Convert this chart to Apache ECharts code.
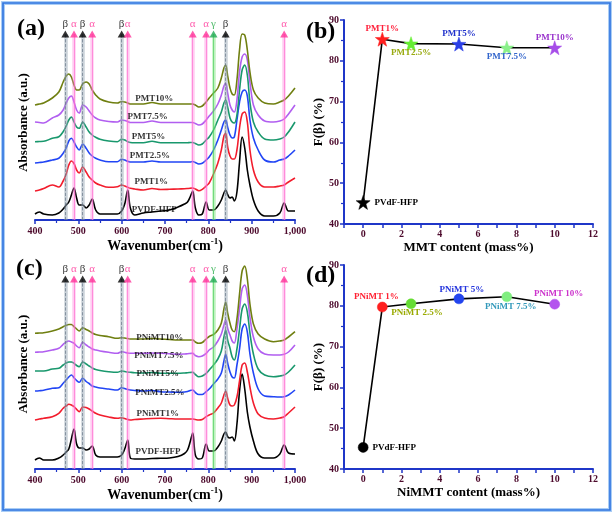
<!DOCTYPE html>
<html><head><meta charset="utf-8">
<script src="https://cdn.jsdelivr.net/npm/echarts/dist/echarts.min.js"></script>
<style>html,body{margin:0;padding:0;background:#fff}#chart{width:614px;height:515px}</style>
</head><body><div id="chart"></div>
<script>
// ---------- DATA ----------
const wavenumbers = [400,410,420,440,455,465,472,478,484,490,496,502,510,518,525,532,540,550,570,590,600,607,614,620,630,650,670,690,710,730,745,752,758,764,770,778,786,795,802,812,822,830,836,840,845,850,855,860,866,872,878,884,890,896,904,915,930,950,965,975,985,1000];

// panel (a) spectra (absorbance, a.u.)
const pvdfA  = [6,8,6,5,7,11,15,18,25,32,22,15,15,12,15,21,10,6,6,6,9,16,30,12,5,7,8,9,10,13,16,18,23,29,12,5,6,18,10,10,14,20,27,30,25,22,23,19,28,58,83,72,50,35,20,9,4,4,7,17,9,9];
const pmt1   = [29,30,31.5,35,33,39,46,55,59,56.5,50,47,53,48,43,40,37,35,32.7,33.3,35,34,32.7,31.7,31,30,31.5,30.5,30.7,31,31.3,31.5,31.7,32,31,29.3,30.7,34,37,46,57,70,84,86.7,72,64,61,61,70,92,106,108,98,70,50,38,33,33,34,35,38,42];
const pmt25  = [57,57.5,58,60,61.7,66.7,72,79,81.7,78,73,70,76,71.7,67,64,61.7,60,58.3,58.3,60.7,60,58.7,58,58,58,59,58,58,58,58,58,58,58.5,57.5,56,56.7,60,63,70,80,90,98,100,92,85,82,83,100,118,128,130,124,100,82,70,60,58,60,61,64,70];
const pmt5   = [78.3,78.5,78.7,81.7,83.3,88.3,94,100,103,98,93,91.7,98,93,88,85,82.7,80.7,79,78.3,80.7,80,78.3,77.5,77.3,77.3,78.7,77.3,77.3,77.3,77.3,77.3,77.5,77.5,76.5,75,76,80,83,90,100,108,117,120,112,102,98,97,105,130,150,155,145,118,98,88,81,80,81,83,88,98];
const pmt75  = [98,97.5,97,102,105,110,117,122,124,118,110,107,115,113,109,105,102,100,98.5,98,100,99.5,98.5,97.5,97.5,97.5,99,97.5,97.5,97.5,97.5,97.5,97.5,97.5,96.5,95,96,100,104,109,116,125,134,136.7,126,115,110,108,120,148,163,166,160,138,115,105,99,98,99,101,106,115];
const pmt10  = [115,116,117,122,128,138,144,146,143,135,130,130,136,138,136,130,125,121,118,117,118.5,118,117,116,116,116,117.5,116,116,116,116,116,116,116,115,113,114,118,122,127,132,142,152,155,143,132,126,125,140,170,186,185,170,148,130,122,117,116,118,120,124,132];

// panel (c) spectra
const pvdfC    = [9,11,9,9,11,14,17,20,30,40,25,21,21,19,20,23,14,12,12,12,14,20,29,11,10,10,10.5,10.7,11,12.5,15.5,19,27,36,14,10,11,25,18,18,22,28,35,37,32,31,32,28,45,78,95,80,57,42,28,15,11,11,15,24,16,15];
const pnimt1   = [49,50,50.7,52.3,55.7,60.7,63,64.7,64,62.3,59.7,57.3,62,61.5,60,58,55.7,54,52,50.7,51.3,50.5,49.5,49,49.5,50,50.5,50.7,50.3,50,50,50,50,50,49.5,49,49.5,52.3,54,56,61,66,74,78,70,64,63,64,72,88,104,106,97,82,66,55,51,50,51,52.3,56,62];
const pnimt25  = [78,78.3,78.7,80.7,81.3,85.7,89,92,94,91.3,88.5,86.7,90.7,87.5,85.5,83,82,81,80,79,81.3,80.5,79.5,79,78.5,78,78.5,77.3,77,76.7,77,77.5,78.5,79,76.5,74.5,74.5,77.3,80,85,90,96,108,114.7,105,97,92,91,104,120,140,145,137,115,96,80,73,72.3,72,72.3,74,79];
const pnimt5   = [98,98,98,100,100.7,104,106,107,107,105.7,103.5,102.3,107,105,103,101,99.5,98.5,97.3,96.7,98,97.5,97,96.7,96.3,96,96.5,95.7,95.7,95.7,96,96.3,96.5,96.7,94.5,92.3,93,95.7,99,104,110,118,132,139,128,120.7,112,109,120,140,160,165,157,136,115,100,94,92.3,93,94,97,104];
const pnimt75  = [116.7,117,117.3,119,120.7,124.7,127,128,127,125.7,123,121.3,126.7,124,122,120,119,118,116.7,115.7,117.3,116.7,116,115.7,115.7,115.7,116,115.7,115.3,114.7,115,115.3,115.5,115.7,113.5,112.3,113,115.7,119,122,128,135,144,149,140,134,128,126,140,160,180,184,174,152,132,120,115,114,114,114.7,117,124];
const pnimt10  = [135.7,136,136.3,138,140,142.3,143.5,144.5,144.5,142.3,140,138,141.3,139.5,138,136,134.5,133.5,132.3,130.7,131.3,131,130.5,130,130,130,130.5,130,129.5,129,129,129,129,129,127,125.7,126.5,130,132.5,134.5,139,146,160,167,155,145.7,139,137.3,150,175,198,203,190,165,145,135,130,127.3,128,129,132,137.3];

const namesA = ['PVDF-HFP','PMT1%','PMT2.5%','PMT5%','PMT7.5%','PMT10%'];
const namesC = ['PVDF-HFP','PNiMT1%','PNiMT2.5%','PNiMT5%','PNiMT7.5%','PNiMT10%'];

// characteristic bands
const peakWavenumbers = [470,490,510,532,600,614,764,795,812,840,975];
const peakPhases      = ['β','α','β','α','β','α','α','α','γ','β','α'];

// panels (b) and (d): F(beta)
const contents   = [0,1,2.5,5,7.5,10];
const fBetaMMT   = [45.3,85.3,84.2,84.1,83.2,83.2];
const namesB     = ['PVdF-HFP','PMT1%','PMT2.5%','PMT5%','PMT7.5%','PMT10%'];
const fBetaNiMMT = [45.3,79.7,80.5,81.7,82.2,80.4];
const namesD     = ['PVdF-HFP','PNiMT 1%','PNiMT 2.5%','PNiMT 5%','PNiMT 7.5%','PNiMT 10%'];

// ---------- STYLE ----------
const SERIF = '"Liberation Serif","Times New Roman",serif';
const AXIS_BLUE = '#1f36c8';
const TICK_TXT = '#4d0a2c';
const specColors = ['#000000','#f21d2d','#2145f5','#19986d','#b15ef0','#6f7f10'];
const phaseStyle = {
  'β': {tri:'#000000', txt:'#000000', band:'rgba(150,165,180,0.5)', core:'#5d6d80'},
  'α': {tri:'#ff3399', txt:'#ff3399', band:'rgba(255,130,220,0.4)', core:'#ff66cc'},
  'γ': {tri:'#22aa55', txt:'#22aa44', band:'rgba(130,230,130,0.5)', core:'#44cc55'}
};
const starPath = 'path://M0,-10L2.35,-3.24L9.51,-3.09L3.8,1.24L5.88,8.09L0,4L-5.88,8.09L-3.8,1.24L-9.51,-3.09L-2.35,-3.24Z';

const chart = echarts.init(document.getElementById('chart'), null, {renderer:'canvas'});

function specX(idx){
  return {gridIndex:idx, type:'value', min:400, max:1000, interval:100,
    axisLine:{show:true, onZero:false, lineStyle:{color:AXIS_BLUE, width:2}},
    axisTick:{show:true, length:4, lineStyle:{color:AXIS_BLUE, width:1.5}},
    minorTick:{show:true, splitNumber:2, length:3, lineStyle:{color:AXIS_BLUE, width:1.2}},
    splitLine:{show:false}, minorSplitLine:{show:false},
    axisLabel:{color:TICK_TXT, fontFamily:SERIF, fontSize:10, fontWeight:'bold', margin:6},
    name:'Wavenumber(cm{s|-1})', nameLocation:'middle', nameGap:17,
    nameTextStyle:{color:'#000', fontFamily:SERIF, fontSize:14, fontWeight:'bold',
      rich:{s:{fontSize:9, fontFamily:SERIF, fontWeight:'bold', color:'#000', padding:[0,0,9,0]}}}
  };
}
function specY(idx, max){
  return {gridIndex:idx, type:'value', min:0, max:max,
    axisLine:{show:false}, axisTick:{show:false}, axisLabel:{show:false}, splitLine:{show:false},
    name:'Absorbance (a.u.)', nameLocation:'middle', nameGap:5,
    nameTextStyle:{color:'#000', fontFamily:SERIF, fontSize:13, fontWeight:'bold'}
  };
}
function fracX(idx, title){
  return {gridIndex:idx, type:'value', min:-1, max:12, interval:1,
    axisLine:{show:true, onZero:false, lineStyle:{color:AXIS_BLUE, width:2}},
    axisTick:{show:true, length:4, lineStyle:{color:AXIS_BLUE, width:1.5}},
    splitLine:{show:false},
    axisLabel:{color:TICK_TXT, fontFamily:SERIF, fontSize:10, fontWeight:'bold', margin:5,
      formatter:v => (v>=0 && v%2===0) ? String(v) : ''},
    name:title, nameLocation:'middle', nameGap:17,
    nameTextStyle:{color:'#000', fontFamily:SERIF, fontSize:13, fontWeight:'bold'}
  };
}
function fracY(idx){
  return {gridIndex:idx, type:'value', min:40, max:90, interval:10,
    axisLine:{show:true, onZero:false, lineStyle:{color:AXIS_BLUE, width:2}},
    axisTick:{show:true, length:4, lineStyle:{color:AXIS_BLUE, width:1.5}},
    minorTick:{show:true, splitNumber:2, length:3, lineStyle:{color:AXIS_BLUE, width:1.2}},
    splitLine:{show:false}, minorSplitLine:{show:false},
    axisLabel:{color:TICK_TXT, fontFamily:SERIF, fontSize:10, fontWeight:'bold', margin:5},
    name:'F(β) (%)', nameLocation:'middle', nameGap:19,
    nameTextStyle:{color:'#000', fontFamily:SERIF, fontSize:13, fontWeight:'bold'}
  };
}

function specSeries(arr, color, idx){
  return {type:'line', xAxisIndex:idx, yAxisIndex:idx, data:wavenumbers.map((w,i)=>[w, arr[i]]),
    symbol:'none', smooth:0.35, lineStyle:{color:color, width:1.6}, z:4, silent:true, animation:false};
}
function bandSeries(idx, topH){
  return [
    {type:'scatter', xAxisIndex:idx, yAxisIndex:idx, z:2, silent:true, animation:false,
      data:[], markLine:{silent:true, symbol:'none', animation:false, label:{show:false},
        data:peakWavenumbers.map((p,i)=>[{coord:[p,0], lineStyle:{color:phaseStyle[peakPhases[i]].band, width:3.5, type:'solid'}},{coord:[p,topH]}])}},
    {type:'scatter', xAxisIndex:idx, yAxisIndex:idx, z:3, silent:true, animation:false,
      data:[], markLine:{silent:true, symbol:'none', animation:false, label:{show:false},
        data:peakWavenumbers.map((p,i)=>[{coord:[p,0], lineStyle:{color:phaseStyle[peakPhases[i]].core, width:0.8, type:peakPhases[i]==='β'?'dashed':'solid', opacity:0.8}},{coord:[p,topH]}])}},
    {type:'scatter', xAxisIndex:idx, yAxisIndex:idx, z:6, silent:true, animation:false,
      symbol:'triangle', symbolSize:[8,7],
      data:peakWavenumbers.map((p,i)=>({value:[p,topH], itemStyle:{color:phaseStyle[peakPhases[i]].tri},
        label:{show:true, position:'top', distance:1, formatter:peakPhases[i], color:phaseStyle[peakPhases[i]].txt,
          fontFamily:SERIF, fontSize:11}}))}
  ];
}
function nameSeries(idx, names, anchors){
  return {type:'scatter', xAxisIndex:idx, yAxisIndex:idx, z:7, silent:true, animation:false,
    symbolSize:1, itemStyle:{color:'rgba(0,0,0,0)'},
    data:names.map((n,i)=>({value:anchors[i], name:n})),
    label:{show:true, position:'inside', formatter:'{b}', color:'#000', fontFamily:SERIF, fontSize:9, fontWeight:'bold'}};
}
function fracSeries(idx, vals, names, symbol, size, colors, labelColors, offsets){
  return {type:'line', xAxisIndex:idx, yAxisIndex:idx, z:5, animation:false, silent:true,
    symbol:symbol, symbolSize:size, showAllSymbol:true,
    lineStyle:{color:'#000', width:1.6},
    data:contents.map((c,i)=>({value:[c, vals[i]], name:names[i],
      itemStyle:{color:colors[i], borderColor:colors[i], borderWidth:0.5},
      label: i===0 ? {show:true, position:'right', distance:4, formatter:'{b}', color:labelColors[i], fontFamily:SERIF, fontSize:9, fontWeight:'bold'}
                   : {show:true, position:'inside', offset:offsets[i], formatter:'{b}', color:labelColors[i], fontFamily:SERIF, fontSize:9, fontWeight:'bold'}
    }))};
}

const anchorsA = [[675,10],[668,38],[665,64],[662,83],[660,103],[675,121]];
const anchorsC = [[684,17],[683,55],[688,76],[683,95],[686,113],[688,131]];

const option = {
  backgroundColor:'#ffffff',
  animation:false,
  grid:[
    {left:35, top:25, width:260, height:195},
    {left:344, top:20, width:249, height:204},
    {left:35, top:259, width:260, height:210},
    {left:344, top:265, width:249, height:204}
  ],
  xAxis:[specX(0), fracX(1,'MMT content (mass%)'), specX(2), fracX(3,'NiMMT content (mass%)')],
  yAxis:[specY(0,195), fracY(1), specY(2,210), fracY(3)],
  series:[
    ...bandSeries(0,186),
    specSeries(pvdfA, specColors[0], 0),
    specSeries(pmt1, specColors[1], 0),
    specSeries(pmt25, specColors[2], 0),
    specSeries(pmt5, specColors[3], 0),
    specSeries(pmt75, specColors[4], 0),
    specSeries(pmt10, specColors[5], 0),
    nameSeries(0, namesA, anchorsA),
    ...bandSeries(2,190),
    specSeries(pvdfC, specColors[0], 2),
    specSeries(pnimt1, specColors[1], 2),
    specSeries(pnimt25, specColors[2], 2),
    specSeries(pnimt5, specColors[3], 2),
    specSeries(pnimt75, specColors[4], 2),
    specSeries(pnimt10, specColors[5], 2),
    nameSeries(2, namesC, anchorsC),
    fracSeries(1, fBetaMMT, namesB, starPath, 14,
      ['#000000','#ff1f1f','#66ee33','#2b3fe6','#8af08a','#a64de8'],
      ['#000000','#ff1f3a','#99aa10','#2233cc','#3366cc','#9933cc'],
      [[0,0],[0,-11],[0,9],[0,-10],[0,9],[0,-10]]),
    fracSeries(3, fBetaNiMMT, namesD, 'circle', 10,
      ['#000000','#ff1f1f','#66dd33','#2244ee','#80ee80','#b455ee'],
      ['#000000','#ff2233','#99aa00','#2233dd','#3399bb','#cc33cc'],
      [[0,0],[-6,-10],[6,9],[3,-9],[4,10],[4,-10]])
  ],
  graphic:[
    {type:'rect', shape:{x:3, y:3, width:607, height:507}, style:{fill:'none', stroke:'#aacdf5', lineWidth:4}, silent:true, z:0},
    {type:'rect', shape:{x:3, y:3, width:607, height:507}, style:{fill:'none', stroke:'#2f74e0', lineWidth:1.6}, silent:true, z:1},
    {type:'text', left:17, top:17, style:{text:'(a)', font:'bold 24px '+SERIF, fill:'#000'}},
    {type:'text', left:306, top:20, style:{text:'(b)', font:'bold 24px '+SERIF, fill:'#000'}},
    {type:'text', left:16, top:257, style:{text:'(c)', font:'bold 24px '+SERIF, fill:'#000'}},
    {type:'text', left:306, top:264, style:{text:'(d)', font:'bold 24px '+SERIF, fill:'#000'}}
  ]
};
chart.setOption(option);
</script></body></html>
